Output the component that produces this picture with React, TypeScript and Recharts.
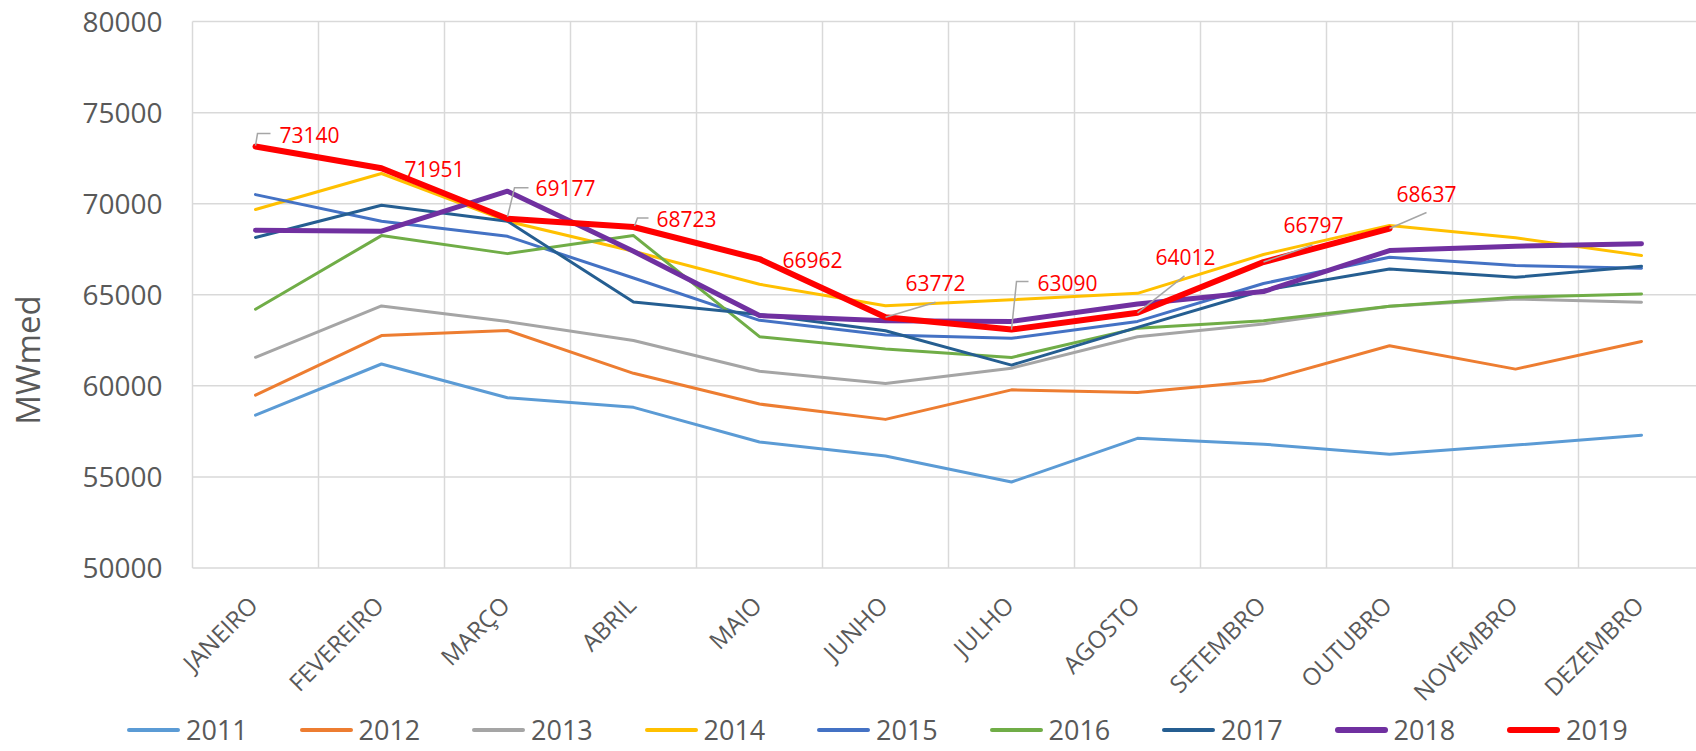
import { CartesianGrid, LabelList, Legend, Line, LineChart, XAxis, YAxis } from "recharts";

const months = [
  "JANEIRO",
  "FEVEREIRO",
  "MARÇO",
  "ABRIL",
  "MAIO",
  "JUNHO",
  "JULHO",
  "AGOSTO",
  "SETEMBRO",
  "OUTUBRO",
  "NOVEMBRO",
  "DEZEMBRO",
];
const yTicks = [50000, 55000, 60000, 65000, 70000, 75000, 80000];
const years = ["2011", "2012", "2013", "2014", "2015", "2016", "2017", "2018", "2019"];

const s2011 = [58390, 61200, 59350, 58820, 56920, 56150, 54720, 57120, 56800, 56240, 56750, 57290];
const s2012 = [59490, 62760, 63040, 60690, 59000, 58160, 59780, 59630, 60280, 62200, 60920, 62440];
const s2013 = [61570, 64390, 63530, 62490, 60800, 60130, 60970, 62700, 63400, 64370, 64770, 64590];
const s2014 = [69680, 71660, 69040, 67390, 65580, 64400, 64730, 65080, 67210, 68810, 68130, 67160];
const s2015 = [70500, 69040, 68210, 65920, 63600, 62790, 62610, 63540, 65620, 67060, 66610, 66460];
const s2016 = [64210, 68250, 67260, 68250, 62700, 62020, 61560, 63170, 63580, 64370, 64860, 65050];
const s2017 = [68150, 69920, 69040, 64600, 63920, 63030, 61140, 63210, 65250, 66420, 65960, 66570];
const s2018 = [68540, 68490, 70690, 67390, 63860, 63580, 63540, 64500, 65180, 67430, 67670, 67800];
const s2019 = [73140, 71951, 69177, 68723, 66962, 63772, 63090, 64012, 66797, 68637];

const seriesValues = [s2011, s2012, s2013, s2014, s2015, s2016, s2017, s2018, s2019];
const colors = ["#5B9BD5", "#ED7D31", "#A5A5A5", "#FFC000", "#4472C4", "#70AD47", "#255E91", "#7030A0", "#FF0000"];
const widths = [3, 3, 3, 3, 3, 3, 3, 5, 6];

const data = months.map((m, i) => {
  const row: Record<string, number | string | undefined> = { month: m, pos: i + 0.5 };
  years.forEach((yr, k) => {
    row["y" + yr] = seriesValues[k][i];
  });
  return row;
});

// where each red value label sits relative to its point (text left/baseline + leader line)
const labelPlacement: { dx: number; dy: number; leader?: number[][] }[] = [
  { dx: 24, dy: -4, leader: [[0, -1], [2, -13], [15, -13]] },
  { dx: 23, dy: 9 },
  { dx: 28, dy: -23, leader: [[0, -2], [7, -31], [21, -31]] },
  { dx: 23, dy: 0, leader: [[1, -1], [4, -9], [15, -9]] },
  { dx: 23, dy: 9 },
  { dx: 20, dy: -26, leader: [[0, 0], [50, -15]] },
  { dx: 26, dy: -39, leader: [[0, 0], [5, -48], [17, -48]] },
  { dx: 18, dy: -48, leader: [[0, 0], [47, -37]] },
  { dx: 20, dy: -29, leader: [[0, 0], [49, -17]] },
  { dx: 7, dy: -27, leader: [[0, 0], [37, -16]] },
];

const textColor = "#595959";

function MonthTick(props: any) {
  const { x, y, payload } = props;
  return (
    <text
      transform={`translate(${x + 4},${y + 39}) rotate(-45)`}
      textAnchor="end"
      fill={textColor}
      fontSize={24}
    >
      {months[Math.floor(payload.value)]}
    </text>
  );
}

function RedLabel(props: any) {
  const x = props.x ?? props.viewBox?.x;
  const y = props.y ?? props.viewBox?.y;
  const { value, index } = props;
  if (value == null || x == null || y == null) return null;
  const p = labelPlacement[index];
  if (!p) return null;
  return (
    <g>
      {p.leader && (
        <polyline
          points={p.leader.map(([a, b]) => `${x + a},${y + b}`).join(" ")}
          fill="none"
          stroke="#A6A6A6"
          strokeWidth={1.5}
        />
      )}
      <text x={x + p.dx} y={y + p.dy} fill="#FF0000" fontSize={21}>
        {value}
      </text>
    </g>
  );
}

function YearLegend() {
  return (
    <div style={{ display: "flex", height: 36, paddingLeft: 127, alignItems: "center" }}>
      {years.map((yr, k) => (
        <div key={yr} style={{ width: 172.5, display: "flex", alignItems: "center", flexShrink: 0 }}>
          <span
            style={{
              display: "inline-block",
              width: 53,
              height: widths[k] > 3 ? 6 : 4,
              borderRadius: 3,
              background: colors[k],
              marginRight: 6,
            }}
          />
          <span style={{ fontSize: 27, color: textColor, lineHeight: "36px" }}>{yr}</span>
        </div>
      ))}
    </div>
  );
}

export default function App() {
  return (
    <div
      style={{
        position: "fixed",
        left: 0,
        top: 0,
        width: 1696,
        height: 751,
        overflow: "hidden",
        background: "#fff",
        fontFamily: "'Open Sans', sans-serif",
      }}
    >
      <LineChart
        width={1720}
        height={751}
        data={data}
        margin={{ top: 21.6, right: 15.5, left: 0, bottom: 0 }}
      >
        <CartesianGrid
          stroke="#D9D9D9"
          strokeWidth={1.5}
          verticalCoordinatesGenerator={({ offset }: any) =>
            Array.from({ length: months.length + 1 }, (_, i) => offset.left + (offset.width * i) / months.length)
          }
        />
        <XAxis
          type="number"
          dataKey="pos"
          domain={[0, months.length]}
          ticks={months.map((_, i) => i + 0.5)}
          tick={<MonthTick />}
          tickLine={false}
          axisLine={false}
          tickSize={0}
          tickMargin={0}
          height={147}
          interval={0}
        />
        <YAxis
          domain={[50000, 80000]}
          ticks={yTicks}
          width={192.5}
          tickLine={false}
          axisLine={false}
          tickSize={0}
          tickMargin={30}
          tick={{ fill: textColor, fontSize: 28 }}
          label={{
            content: () => (
              <text transform="translate(40,360) rotate(-90)" textAnchor="middle" fill={textColor} fontSize={33}>
                MWmed
              </text>
            ),
          }}
        />
        <Legend
          verticalAlign="bottom"
          content={<YearLegend />}
          wrapperStyle={{ left: 0, bottom: 3, width: 1720, height: 36 }}
        />
        {years.map((yr, k) => (
          <Line
            key={yr}
            dataKey={"y" + yr}
            name={yr}
            stroke={colors[k]}
            strokeWidth={widths[k]}
            strokeLinecap="round"
            strokeLinejoin="round"
            dot={false}
            activeDot={false}
            type="linear"
            isAnimationActive={false}
          >
            {yr === "2019" && <LabelList dataKey={"y" + yr} content={<RedLabel />} />}
          </Line>
        ))}
      </LineChart>
    </div>
  );
}
